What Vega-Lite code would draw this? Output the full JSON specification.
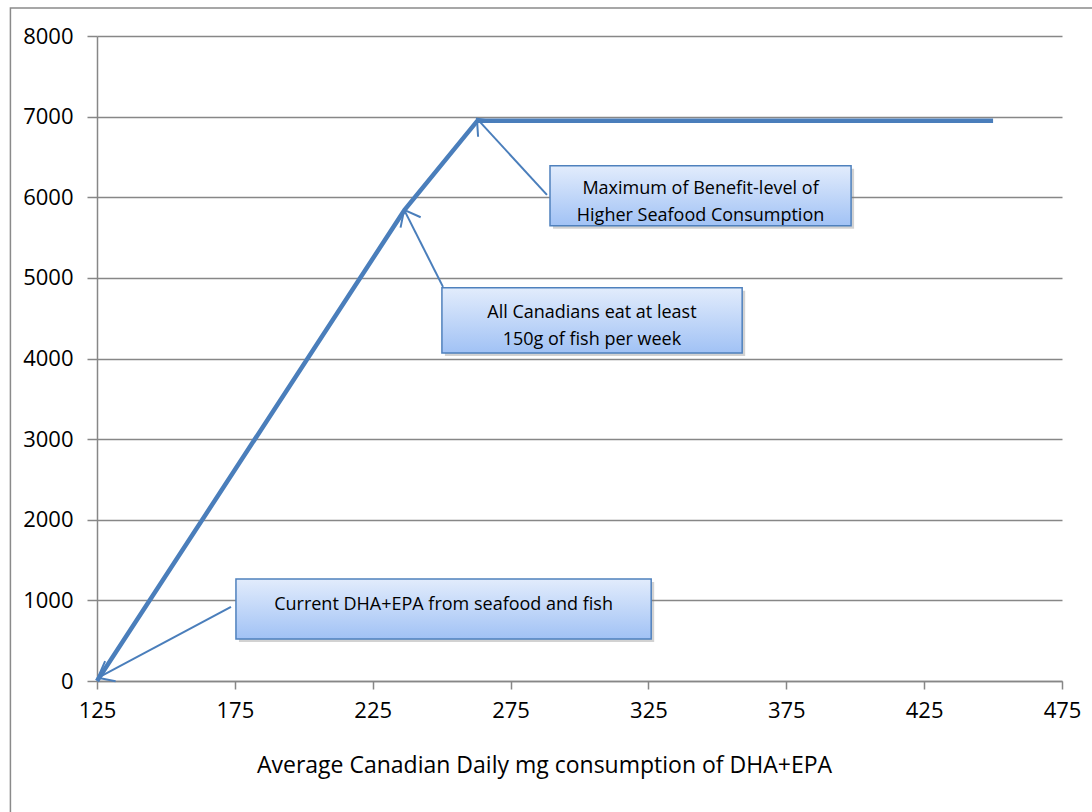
{
  "$schema": "https://vega.github.io/schema/vega-lite/v6.json",
  "width": 965,
  "height": 645,
  "autosize": "none",
  "padding": {"left": 97, "top": 36, "right": 30, "bottom": 131},
  "background": "#ffffff",
  "config": {
    "view": {"stroke": null},
    "font": "Open Sans",
    "axis": {"labelFont": "Open Sans", "titleFont": "Open Sans", "labelColor": "#000000", "titleColor": "#000000"}
  },
  "datasets": {
    "series": [
      {"x": 125, "y": 0},
      {"x": 236.5, "y": 5840},
      {"x": 263, "y": 6950},
      {"x": 450, "y": 6950}
    ],
    "arrows": [
      {"x": 288.2, "y": 6030, "x2": 262.8, "y2": 6975, "angle": 317.7},
      {"x": 250.5, "y": 4888, "x2": 236.4, "y2": 5844, "angle": 332.8},
      {"x": 173.6, "y": 918, "x2": 125.3, "y2": 40, "angle": 242.4}
    ],
    "boxes": [
      {"x": 289.3, "x2": 398.5, "y": 6390, "y2": 5645, "cx": 343.9, "cy": 6105, "label": "Maximum of Benefit-level of\nHigher Seafood Consumption"},
      {"x": 250.1, "x2": 359, "y": 4876, "y2": 4069, "cx": 304.5, "cy": 4559, "label": "All Canadians eat at least\n150g of fish per week"},
      {"x": 175.4, "x2": 326, "y": 1265, "y2": 521, "cx": 250.7, "cy": 940, "label": "Current DHA+EPA from seafood and fish"}
    ],
    "frame": [
      {"x": 93.6, "x2": 520, "y": 8347, "y2": -2500}
    ]
  },
  "layer": [
    {
      "data": {"name": "frame"},
      "mark": {"type": "rect", "fill": null, "stroke": "#8a8a8a", "strokeWidth": 1.5},
      "encoding": {
        "x": {"field": "x", "type": "quantitative", "scale": {"domain": [125, 475], "nice": false, "zero": false}, "axis": {"values": [125, 175, 225, 275, 325, 375, 425, 475], "grid": false, "domainColor": "#878787", "domainWidth": 1.5, "tickColor": "#878787", "tickWidth": 1.5, "tickSize": 8, "labelFontSize": 22, "labelPadding": 11, "labelFlush": false, "title": "Average Canadian Daily mg consumption of DHA+EPA", "titleFontSize": 23, "titleFontWeight": "normal", "titlePadding": 33, "titleX": 447, "titleAnchor": null, "titleAlign": "center"}},
        "x2": {"field": "x2"},
        "y": {"field": "y", "type": "quantitative", "scale": {"domain": [0, 8000], "nice": false}, "axis": {"values": [0, 1000, 2000, 3000, 4000, 5000, 6000, 7000, 8000], "grid": true, "gridColor": "#878787", "gridWidth": 1.5, "domainColor": "#878787", "domainWidth": 1.5, "tickColor": "#878787", "tickWidth": 1.5, "tickSize": 10, "labelFontSize": 22, "labelPadding": 14, "format": "d", "title": null}},
        "y2": {"field": "y2"}
      }
    },
    {
      "data": {"name": "series"},
      "mark": {"type": "line", "color": "#4A7EBB", "strokeWidth": 4.5, "strokeJoin": "miter"},
      "encoding": {
        "x": {"field": "x", "type": "quantitative"},
        "y": {"field": "y", "type": "quantitative"}
      }
    },
    {
      "data": {"name": "arrows"},
      "mark": {"type": "rule", "color": "#4A7EBB", "strokeWidth": 2},
      "encoding": {
        "x": {"field": "x", "type": "quantitative"},
        "y": {"field": "y", "type": "quantitative"},
        "x2": {"field": "x2"},
        "y2": {"field": "y2"}
      }
    },
    {
      "data": {"name": "arrows"},
      "mark": {"type": "point", "shape": "M-0.8,1L0,0L0.8,1", "filled": false, "stroke": "#4A7EBB", "strokeWidth": 2, "size": 800, "opacity": 1},
      "encoding": {
        "x": {"field": "x2", "type": "quantitative"},
        "y": {"field": "y2", "type": "quantitative"},
        "angle": {"field": "angle", "type": "quantitative", "scale": null}
      }
    },
    {
      "data": {"name": "boxes"},
      "mark": {"type": "rect", "fill": "#7f7f7f", "opacity": 0.35, "xOffset": 3, "x2Offset": 3, "yOffset": 3, "y2Offset": 3},
      "encoding": {
        "x": {"field": "x", "type": "quantitative"},
        "x2": {"field": "x2"},
        "y": {"field": "y", "type": "quantitative"},
        "y2": {"field": "y2"}
      }
    },
    {
      "data": {"name": "boxes"},
      "mark": {"type": "rect", "stroke": "#4F81BD", "strokeWidth": 1.5, "fill": {"gradient": "linear", "x1": 0, "y1": 0, "x2": 0, "y2": 1, "stops": [{"offset": 0, "color": "#E2ECFC"}, {"offset": 1, "color": "#A1C2F5"}]}},
      "encoding": {
        "x": {"field": "x", "type": "quantitative"},
        "x2": {"field": "x2"},
        "y": {"field": "y", "type": "quantitative"},
        "y2": {"field": "y2"}
      }
    },
    {
      "data": {"name": "boxes"},
      "mark": {"type": "text", "fontSize": 18, "color": "#000000", "align": "center", "baseline": "middle", "lineBreak": "\n", "lineHeight": 27},
      "encoding": {
        "x": {"field": "cx", "type": "quantitative"},
        "y": {"field": "cy", "type": "quantitative"},
        "text": {"field": "label"}
      }
    }
  ]
}
